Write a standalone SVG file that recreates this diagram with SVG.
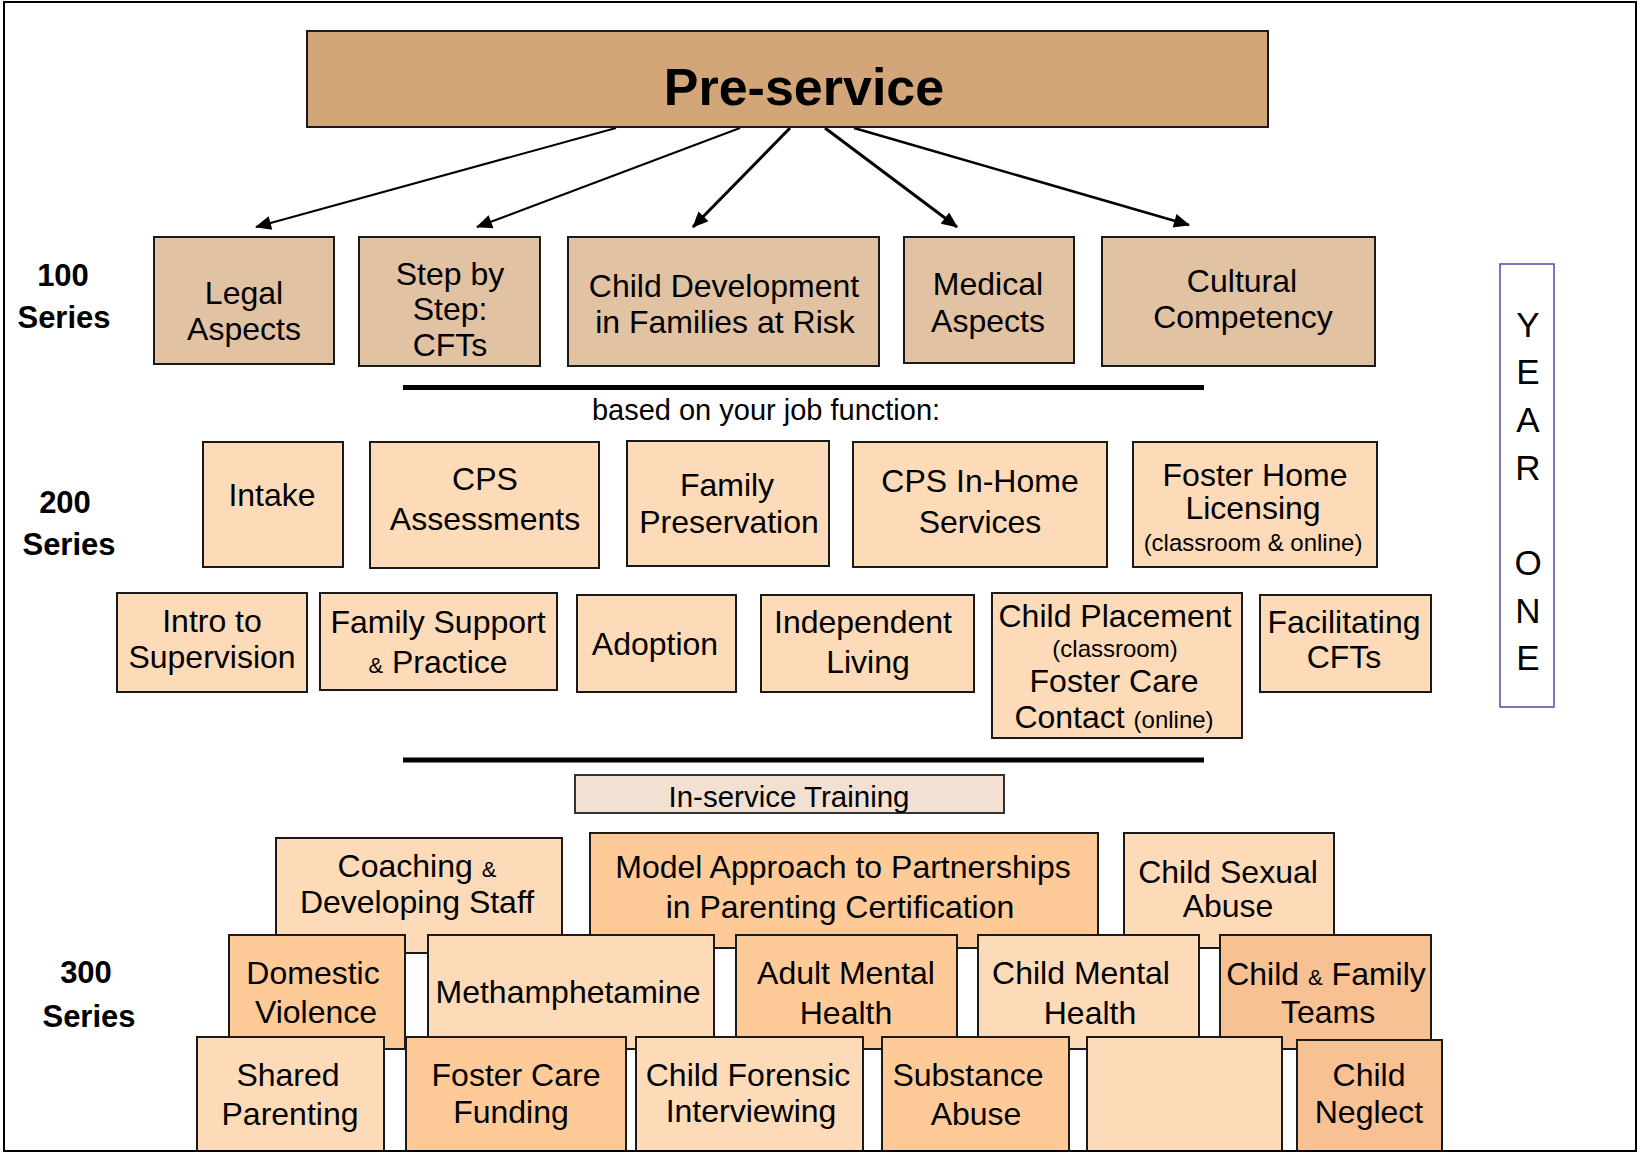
<svg xmlns="http://www.w3.org/2000/svg" width="1638" height="1152" viewBox="0 0 1638 1152">
<defs>
<style>
text{font-family:"Liberation Sans",Arial,sans-serif;fill:#000;text-anchor:middle}
.t{font-size:32px}
.s{font-size:24px}
.a{font-size:22px}
.lbl{font-size:31px;font-weight:bold}
.box{stroke:#1a1a1a;stroke-width:2}
.pre{fill:#D3A679}
.c1{fill:#E1C2A3}
.c2{fill:#FDDBB8}
.lt{fill:#FDDBB8}
.md{fill:#FECB98}
.dk{fill:#F8C193}
.rule{stroke:#000;stroke-width:5}
.arr{stroke:#000;fill:none;marker-end:url(#ah)}
</style>
<marker id="ah" viewBox="0 0 16 14" refX="15" refY="7" markerWidth="17" markerHeight="14" markerUnits="userSpaceOnUse" orient="auto">
<path d="M0,0 L16,7 L0,14 z" fill="#000"/>
</marker>
</defs>
<rect x="0" y="0" width="1638" height="1152" fill="#fff"/>

<g id="connectors">
<line class="arr" x1="616" y1="128" x2="256" y2="227" stroke-width="2"/>
<line class="arr" x1="740" y1="128" x2="477" y2="227" stroke-width="2"/>
<line class="arr" x1="790" y1="128" x2="693" y2="227" stroke-width="3"/>
<line class="arr" x1="825" y1="128" x2="957" y2="227" stroke-width="3"/>
<line class="arr" x1="854" y1="128" x2="1189" y2="225" stroke-width="2.5"/>
</g>

<g id="preservice">
<rect class="box pre" x="307" y="31" width="961" height="96"/>
<text x="804" y="105" style="font-size:52px;font-weight:bold">Pre-service</text>
</g>

<g id="label100">
<text class="lbl" x="63" y="286">100</text>
<text class="lbl" x="64" y="328">Series</text>
</g>
<g id="legal"><rect class="box c1" x="154" y="237" width="180" height="127"/>
<text class="t" x="244" y="304">Legal</text><text class="t" x="244" y="340">Aspects</text></g>
<g id="stepbystep"><rect class="box c1" x="359" y="237" width="181" height="129"/>
<text class="t" x="450" y="285">Step by</text><text class="t" x="450" y="320">Step:</text><text class="t" x="450" y="356">CFTs</text></g>
<g id="childdev"><rect class="box c1" x="568" y="237" width="311" height="129"/>
<text class="t" x="724" y="297">Child Development</text><text class="t" x="725" y="333">in Families at Risk</text></g>
<g id="medical"><rect class="box c1" x="904" y="237" width="170" height="126"/>
<text class="t" x="988" y="295">Medical</text><text class="t" x="988" y="332">Aspects</text></g>
<g id="cultural"><rect class="box c1" x="1102" y="237" width="273" height="129"/>
<text class="t" x="1242" y="292">Cultural</text><text class="t" x="1243" y="328">Competency</text></g>

<line id="rule1" class="rule" x1="403" y1="387.5" x2="1204" y2="387.5"/>
<text id="jobfunction" x="766" y="420" style="font-size:29px">based on your job function:</text>

<g id="label200">
<text class="lbl" x="65" y="513">200</text>
<text class="lbl" x="69" y="555">Series</text>
</g>
<g id="intake"><rect class="box c2" x="203" y="442" width="140" height="125"/>
<text class="t" x="272" y="506">Intake</text></g>
<g id="cpsassess"><rect class="box c2" x="370" y="442" width="229" height="126"/>
<text class="t" x="485" y="490">CPS</text><text class="t" x="485" y="530">Assessments</text></g>
<g id="fampres"><rect class="box c2" x="627" y="441" width="202" height="125"/>
<text class="t" x="727" y="496">Family</text><text class="t" x="729" y="533">Preservation</text></g>
<g id="inhome"><rect class="box c2" x="853" y="442" width="254" height="125"/>
<text class="t" x="980" y="492">CPS In-Home</text><text class="t" x="980" y="533">Services</text></g>
<g id="fosterhome"><rect class="box c2" x="1133" y="442" width="244" height="125"/>
<text class="t" x="1255" y="486">Foster Home</text><text class="t" x="1253" y="519">Licensing</text><text class="s" x="1253" y="551">(classroom &amp; online)</text></g>

<g id="intro"><rect class="box c2" x="117" y="593" width="190" height="99"/>
<text class="t" x="212" y="632">Intro to</text><text class="t" x="212" y="668">Supervision</text></g>
<g id="famsupport"><rect class="box c2" x="320" y="593" width="237" height="97"/>
<text class="t" x="438" y="633">Family Support</text><text class="t" x="438" y="673"><tspan class="a">&amp;</tspan> Practice</text></g>
<g id="adoption"><rect class="box c2" x="577" y="595" width="159" height="97"/>
<text class="t" x="655" y="655">Adoption</text></g>
<g id="indep"><rect class="box c2" x="761" y="595" width="213" height="97"/>
<text class="t" x="863" y="633">Independent</text><text class="t" x="868" y="673">Living</text></g>
<g id="placement"><rect class="box c2" x="992" y="593" width="250" height="145"/>
<text class="t" x="1115" y="627">Child Placement</text><text class="s" x="1115" y="657">(classroom)</text><text class="t" x="1114" y="692">Foster Care</text><text class="t" x="1114" y="728">Contact <tspan class="s">(online)</tspan></text></g>
<g id="facil"><rect class="box c2" x="1260" y="595" width="171" height="97"/>
<text class="t" x="1344" y="633">Facilitating</text><text class="t" x="1344" y="668">CFTs</text></g>

<line id="rule2" class="rule" x1="403" y1="760" x2="1204" y2="760"/>

<g id="inservice"><rect x="575" y="775" width="429" height="38" fill="#F2E1D3" stroke="#333" stroke-width="2"/>
<text x="789" y="807" style="font-size:29.5px">In-service Training</text></g>

<g id="label300">
<text class="lbl" x="86" y="983">300</text>
<text class="lbl" x="89" y="1027">Series</text>
</g>
<g id="coaching"><rect class="box lt" x="276" y="838" width="286" height="115"/>
<text class="t" x="417" y="877">Coaching <tspan class="a">&amp;</tspan></text><text class="t" x="417" y="913">Developing Staff</text></g>
<g id="model"><rect class="box md" x="590" y="833" width="508" height="115"/>
<text class="t" x="843" y="878">Model Approach to Partnerships</text><text class="t" x="840" y="918">in Parenting Certification</text></g>
<g id="csa"><rect class="box lt" x="1124" y="833" width="210" height="115"/>
<text class="t" x="1228" y="883">Child Sexual</text><text class="t" x="1228" y="917">Abuse</text></g>

<g id="dv"><rect class="box md" x="229" y="935" width="176" height="114"/>
<text class="t" x="313" y="984">Domestic</text><text class="t" x="316" y="1023">Violence</text></g>
<g id="meth"><rect class="box lt" x="428" y="935" width="286" height="114"/>
<text class="t" x="568" y="1003">Methamphetamine</text></g>
<g id="amh"><rect class="box md" x="736" y="935" width="221" height="114"/>
<text class="t" x="846" y="984">Adult Mental</text><text class="t" x="846" y="1024">Health</text></g>
<g id="cmh"><rect class="box lt" x="978" y="935" width="221" height="114"/>
<text class="t" x="1081" y="984">Child Mental</text><text class="t" x="1090" y="1024">Health</text></g>
<g id="cft"><rect class="box dk" x="1220" y="935" width="211" height="114"/>
<text class="t" x="1326" y="985">Child <tspan class="a">&amp;</tspan> Family</text><text class="t" x="1328" y="1023">Teams</text></g>

<g id="shared"><rect class="box lt" x="197" y="1037" width="187" height="116"/>
<text class="t" x="288" y="1086">Shared</text><text class="t" x="290" y="1125">Parenting</text></g>
<g id="fcfunding"><rect class="box md" x="406" y="1037" width="220" height="116"/>
<text class="t" x="516" y="1086">Foster Care</text><text class="t" x="511" y="1123">Funding</text></g>
<g id="forensic"><rect class="box lt" x="636" y="1037" width="227" height="116"/>
<text class="t" x="748" y="1086">Child Forensic</text><text class="t" x="751" y="1122">Interviewing</text></g>
<g id="substance"><rect class="box md" x="882" y="1037" width="187" height="116"/>
<text class="t" x="968" y="1086">Substance</text><text class="t" x="976" y="1125">Abuse</text></g>
<g id="empty"><rect class="box lt" x="1087" y="1037" width="195" height="116"/></g>
<g id="neglect"><rect class="box dk" x="1297" y="1040" width="145" height="113"/>
<text class="t" x="1369" y="1086">Child</text><text class="t" x="1369" y="1123">Neglect</text></g>

<g id="yearone"><rect x="1500" y="264" width="54" height="443" fill="none" stroke="#4B4BA8" stroke-width="1.5"/>
<text x="1528" y="337" style="font-size:35px">Y</text>
<text x="1528" y="384" style="font-size:35px">E</text>
<text x="1528" y="432" style="font-size:35px">A</text>
<text x="1528" y="480" style="font-size:35px">R</text>
<text x="1528" y="575" style="font-size:35px">O</text>
<text x="1528" y="623" style="font-size:35px">N</text>
<text x="1528" y="670" style="font-size:35px">E</text>
</g>

<rect id="frame" x="4" y="2" width="1632" height="1149" fill="none" stroke="#000" stroke-width="2"/>
</svg>
